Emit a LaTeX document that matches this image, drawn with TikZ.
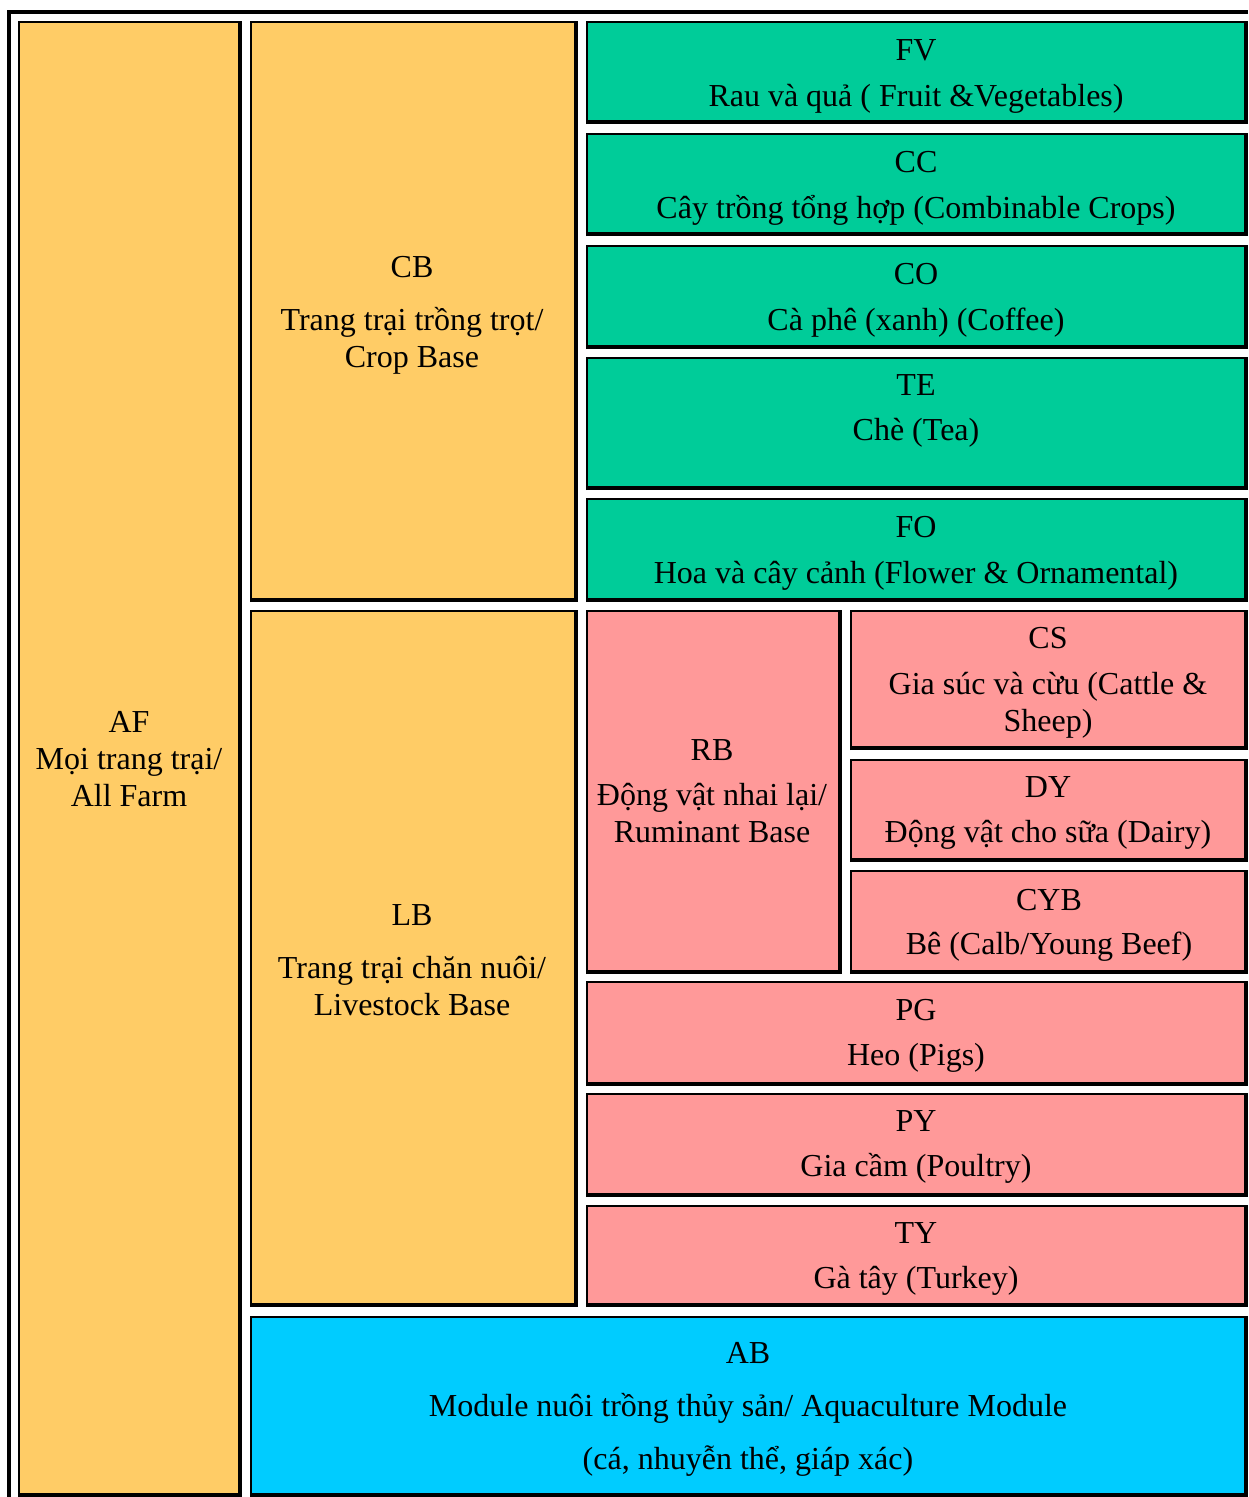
\documentclass[tikz,border=0pt]{standalone}
\usepackage{fontspec}
\setmainfont{Liberation Serif}
\usepackage{tikz}
\usetikzlibrary{positioning}
\definecolor{mOrange}{HTML}{FFCC66}
\definecolor{mGreen}{HTML}{00CC99}
\definecolor{mPink}{HTML}{FF9999}
\definecolor{mCyan}{HTML}{00CCFF}

\begin{document}
\begin{tikzpicture}[x=1pt, y=-1pt,
    lbl/.style={align=center, inner sep=0pt, font=\fontsize{32}{37}\selectfont}]
    \useasboundingbox (0,0) rectangle (1248,1497);
    % outer frame
    \draw[line width=4pt] (9,1497) -- (9,12) -- (1248,12);
    % cells: x1/y1/x2/y2/colour
    \foreach \xa/\ya/\xb/\yb/\col in {
        18/21/242/1497/mOrange,
        250/21/578/602/mOrange, 250/610/578/1307/mOrange,
        586/21/1248/124/mGreen, 586/133/1248/236/mGreen,
        586/245/1248/349/mGreen, 586/357/1248/490/mGreen,
        586/498/1248/602/mGreen,
        586/610/842/974/mPink, 850/610/1248/750/mPink,
        850/759/1248/862/mPink, 850/870/1248/974/mPink,
        586/981/1248/1086/mPink, 586/1093/1248/1197/mPink,
        586/1205/1248/1307/mPink,
        250/1316/1248/1497/mCyan} {
      \fill[\col] (\xa,\ya) rectangle (\xb,\yb);
      \draw[line width=2pt] (\xa+1,\yb) -- (\xa+1,\ya+1) -- (\xb,\ya+1);
      \draw[line width=4pt] (\xa,\yb-2) -- (\xb-2,\yb-2) -- (\xb-2,\ya);
    }
    % labels
    \node[lbl] (af) at (129,759) {AF\\Mọi trang trại/\\All Farm};
    \node[lbl] (cb) at (412,315) {CB\\[16pt]Trang trại trồng trọt/\\Crop Base};
    \node[lbl] (lb) at (412,960) {LB\\[16pt]Trang trại chăn nuôi/\\Livestock Base};
    \node[lbl] (fv) at (916,76) {FV\\[9pt]Rau và quả ( Fruit \&Vegetables)};
    \node[lbl] (cc) at (916,188) {CC\\[9pt]Cây trồng tổng hợp (Combinable Crops)};
    \node[lbl] (co) at (916,300) {CO\\[9pt]Cà phê (xanh) (Coffee)};
    \node[lbl] (te) at (916,411) {TE\\[8pt]Chè (Tea)};
    \node[lbl] (fo) at (916,553) {FO\\[9pt]Hoa và cây cảnh (Flower \& Ornamental)};
    \node[lbl] (rb) at (712,791) {RB\\[8pt]Động vật nhai lại/\\Ruminant Base};
    \node[lbl] (cs) at (1048,683) {CS\\[9pt]Gia súc và cừu (Cattle \&\\Sheep)};
    \node[lbl] (dy) at (1048,813) {DY\\[8pt]Động vật cho sữa (Dairy)};
    \node[lbl] (cyb) at (1049,925) {CYB\\[7pt]Bê (Calb/Young Beef)};
    \node[lbl] (pg) at (916,1036) {PG\\[8pt]Heo (Pigs)};
    \node[lbl] (py) at (916,1147) {PY\\[8pt]Gia cầm (Poultry)};
    \node[lbl] (ty) at (916,1259) {TY\\[8pt]Gà tây (Turkey)};
    \node[lbl] (ab) at (748,1409) {AB\\[16pt]Module nuôi trồng thủy sản/ Aquaculture Module\\[16pt](cá, nhuyễn thể, giáp xác)};
\end{tikzpicture}
\end{document}
